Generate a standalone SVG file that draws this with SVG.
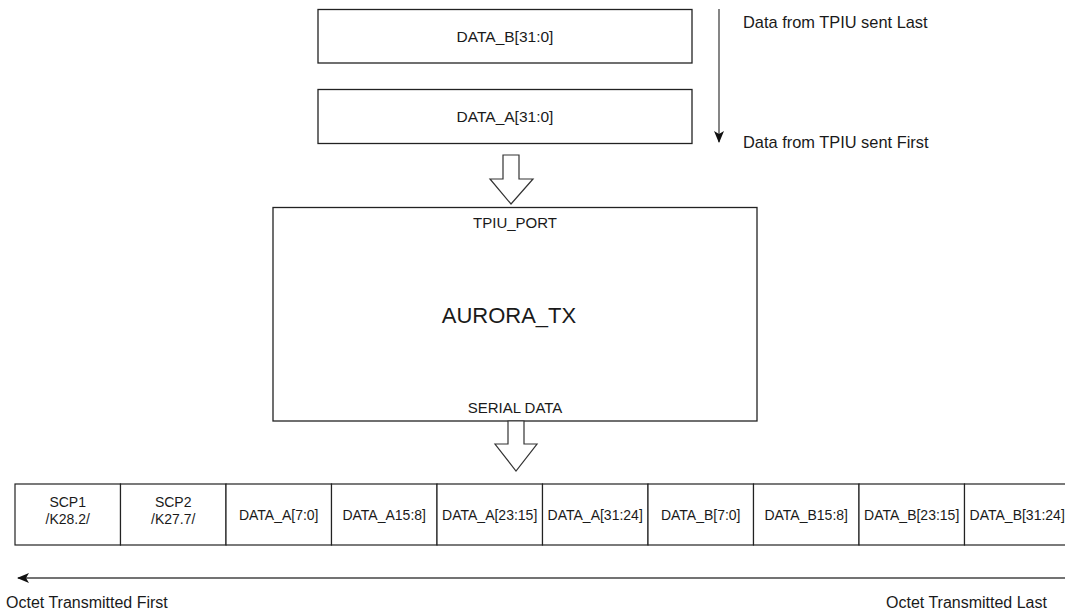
<svg xmlns="http://www.w3.org/2000/svg" width="1065" height="616" viewBox="0 0 1065 616">
<style>
text{font-family:"Liberation Sans",Arial,Helvetica,sans-serif;fill:#1a1a1a}
.box{fill:#fff;stroke:#222;stroke-width:1.3}
.cell{fill:#fff;stroke:#222;stroke-width:1.2}
.hollow{fill:#fff;stroke:#333;stroke-width:1.2;stroke-linejoin:miter}
.line{fill:none;stroke:#444;stroke-width:1.3}
.m{font-size:15px;text-anchor:middle}
.t{font-size:15.5px;text-anchor:middle}
.c{font-size:14px;text-anchor:middle}
.s{font-size:16.4px}
.b{font-size:16px}
</style>
<defs>
<marker id="ah" viewBox="0 0 12 10" refX="11" refY="5" markerWidth="12" markerHeight="10" markerUnits="userSpaceOnUse" orient="auto">
<path d="M0,0 L12,5 L0,10 L3,5 Z" fill="#111"/>
</marker>
</defs>
<rect width="1065" height="616" fill="#fff"/>
<g id="dataB"><rect class="box" x="318" y="9.5" width="374" height="53.5"/><text class="t" x="505" y="42">DATA_B[31:0]</text></g>
<g id="dataA"><rect class="box" x="318" y="89.5" width="374" height="54"/><text class="t" x="505" y="122">DATA_A[31:0]</text></g>
<g id="aurora"><rect class="box" x="273" y="207.5" width="484" height="213.5"/>
<text class="m" x="515" y="228">TPIU_PORT</text>
<text x="509" y="323" font-size="22" text-anchor="middle">AURORA_TX</text>
<text class="m" x="515" y="413">SERIAL DATA</text></g>
<g id="labels">
<text class="s" x="743" y="28">Data from TPIU sent Last</text>
<text class="s" x="743" y="148">Data from TPIU sent First</text>
<text class="b" x="6" y="608">Octet Transmitted First</text>
<text class="b" x="886" y="608">Octet Transmitted Last</text>
</g>
<g id="row">
<rect class="cell" x="15" y="484" width="105.5" height="61"/>
<text class="c" x="67.7" y="507">SCP1</text><text class="c" x="67.7" y="524">/K28.2/</text>
<rect class="cell" x="120.5" y="484" width="105.5" height="61"/>
<text class="c" x="173.2" y="507">SCP2</text><text class="c" x="173.2" y="524">/K27.7/</text>
<rect class="cell" x="226" y="484" width="105.5" height="61"/><text class="c" x="278.7" y="520">DATA_A[7:0]</text>
<rect class="cell" x="331.5" y="484" width="105.5" height="61"/><text class="c" x="384.2" y="520">DATA_A15:8]</text>
<rect class="cell" x="437" y="484" width="105.5" height="61"/><text class="c" x="489.7" y="520">DATA_A[23:15]</text>
<rect class="cell" x="542.5" y="484" width="105.5" height="61"/><text class="c" x="595.2" y="520">DATA_A[31:24]</text>
<rect class="cell" x="648" y="484" width="105.5" height="61"/><text class="c" x="700.7" y="520">DATA_B[7:0]</text>
<rect class="cell" x="753.5" y="484" width="105.5" height="61"/><text class="c" x="806.2" y="520">DATA_B15:8]</text>
<rect class="cell" x="859" y="484" width="105.5" height="61"/><text class="c" x="911.7" y="520">DATA_B[23:15]</text>
<rect class="cell" x="964.5" y="484" width="105.5" height="61"/><text class="c" x="1017.2" y="520">DATA_B[31:24]</text>
</g>
<g id="connectors">
<path class="hollow" d="M503,155 L519,155 L519,179 L533,179 L511,204 L490,179 L503,179 Z"/>
<path class="hollow" d="M508,421 L524,421 L524,444 L537,444 L516,471 L495,444 L508,444 Z"/>
<line class="line" x1="719" y1="9" x2="719" y2="142" marker-end="url(#ah)"/>
<line class="line" x1="1065" y1="578" x2="18" y2="578" marker-end="url(#ah)"/>
</g>
</svg>
